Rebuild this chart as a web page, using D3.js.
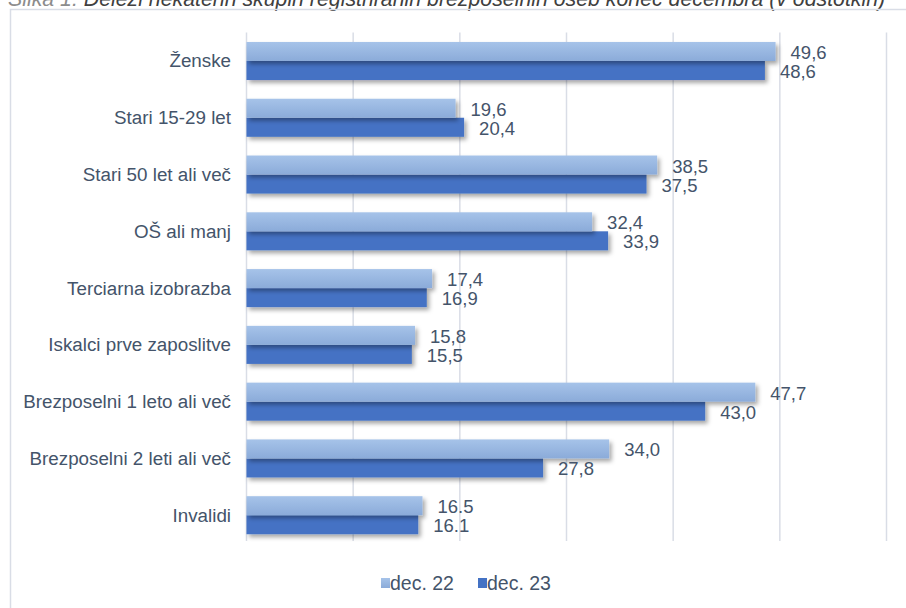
<!DOCTYPE html>
<html>
<head>
<meta charset="utf-8">
<script src="https://cdn.jsdelivr.net/npm/d3@7"></script>
<style>
  html, body { margin: 0; padding: 0; background: #fff; overflow: hidden; }
  svg { display: block; font-family: "Liberation Sans", Arial, sans-serif; }
</style>
</head>
<body>
<svg id="chart" width="906" height="608"></svg>
<script>
// podatki
const categories = [
    "Ženske",
    "Stari 15-29 let",
    "Stari 50 let ali več",
    "OŠ ali manj",
    "Terciarna izobrazba",
    "Iskalci prve zaposlitve",
    "Brezposelni 1 leto ali več",
    "Brezposelni 2 leti ali več",
    "Invalidi"
];
const series = ["dec. 22", "dec. 23"];
const dec22 = [49.6, 19.6, 38.5, 32.4, 17.4, 15.8, 47.7, 34.0, 16.5];
const dec23 = [48.6, 20.4, 37.5, 33.9, 16.9, 15.5, 43.0, 27.8, 16.1];
const xTicks = [0, 10, 20, 30, 40, 50, 60];
// v izvirniku ima ta kategorija decimalno piko
const dotLabels = ["Invalidi"];

const titleLead = "Slika 1: ";
const titleText = "Deleži nekaterih skupin registriranih brezposelnih oseb konec decembra (v odstotkih)";

const textColor = "#44546a";
const gridColor = "#d9dde6";

const svg = d3.select("#chart");

// sence in preliv
const defs = svg.append("defs");
const grad = defs.append("linearGradient")
    .attr("id", "lightGrad")
    .attr("x1", 0).attr("y1", 0).attr("x2", 0).attr("y2", 1);
grad.append("stop").attr("offset", "0%").attr("stop-color", "#a6c3e9");
grad.append("stop").attr("offset", "100%").attr("stop-color", "#8babd9");

const shadow = defs.append("filter")
    .attr("id", "shadow")
    .attr("x", "-10%").attr("y", "-30%")
    .attr("width", "130%").attr("height", "180%");
shadow.append("feDropShadow")
    .attr("dx", 2.5).attr("dy", 3)
    .attr("stdDeviation", 2.2)
    .attr("flood-color", "#000")
    .attr("flood-opacity", 0.35);

const fills = {"dec. 22": "url(#lightGrad)", "dec. 23": "#4472c4"};

// naslov (v izvirniku odrezan na vrhu)
const title = svg.append("text")
    .attr("x", 8)
    .attr("y", 6)
    .style("font-size", "21.3px")
    .style("font-style", "italic");
title.append("tspan").attr("fill", "#8c8c8c").text(titleLead);
title.append("tspan").attr("fill", "#404040").text(titleText);

// okvir
svg.append("rect")
    .attr("x", 10.5).attr("y", 9.5)
    .attr("width", 905).attr("height", 620)
    .attr("fill", "none")
    .attr("stroke", gridColor)
    .attr("stroke-width", 1.5);

// lestvice
const x = d3.scaleLinear()
    .domain([0, 60])
    .range([246.5, 886.5]);

const y = d3.scaleBand()
    .domain(categories)
    .range([32.6, 543.6])
    .paddingInner(0.33)
    .paddingOuter(0.165);

const ySub = d3.scaleBand()
    .domain(series)
    .range([0, y.bandwidth()]);

// mreža
svg.append("g")
    .selectAll("line")
    .data(xTicks)
    .join("line")
    .attr("x1", d => x(d))
    .attr("x2", d => x(d))
    .attr("y1", 32.6)
    .attr("y2", 541)
    .attr("stroke", gridColor)
    .attr("stroke-width", 1.5);

// oznake kategorij
svg.append("g")
    .selectAll("text")
    .data(categories)
    .join("text")
    .attr("x", 231)
    .attr("y", d => y(d) + y.bandwidth() / 2)
    .attr("text-anchor", "end")
    .attr("dominant-baseline", "central")
    .attr("fill", textColor)
    .style("font-size", "18.8px")
    .text(d => d);

// stolpci
const rows = categories.map((c, i) => ({
    cat: c,
    values: [
        {key: "dec. 22", value: dec22[i]},
        {key: "dec. 23", value: dec23[i]}
    ]
}));

const groups = svg.append("g")
    .selectAll("g")
    .data(rows)
    .join("g")
    .attr("transform", d => `translate(0,${y(d.cat)})`);

// najprej temni stolpec, nato svetli, da svetli pade senco na temnega
groups.selectAll("rect")
    .data(d => d.values.slice().reverse())
    .join("rect")
    .attr("x", x(0))
    .attr("y", d => ySub(d.key))
    .attr("width", d => x(d.value) - x(0))
    .attr("height", ySub.bandwidth())
    .attr("fill", d => fills[d.key])
    .attr("filter", "url(#shadow)");

const fmt = d3.format(".1f");
groups.selectAll("text")
    .data(d => d.values.map(v => ({...v, cat: d.cat})))
    .join("text")
    .attr("x", d => x(d.value) + 15)
    .attr("y", d => ySub(d.key) + ySub.bandwidth() / 2 + 1)
    .attr("dominant-baseline", "central")
    .attr("fill", textColor)
    .style("font-size", "18.5px")
    .text(d => dotLabels.includes(d.cat) ? fmt(d.value) : fmt(d.value).replace(".", ","));

// legenda
const legend = svg.append("g")
    .attr("transform", "translate(381,583)");

const legendItems = legend.selectAll("g")
    .data(series)
    .join("g")
    .attr("transform", (d, i) => `translate(${i * 97},0)`);

legendItems.append("rect")
    .attr("x", 0)
    .attr("y", -5)
    .attr("width", 9)
    .attr("height", 10)
    .attr("fill", d => fills[d]);

legendItems.append("text")
    .attr("x", 9)
    .attr("y", 0)
    .attr("dominant-baseline", "central")
    .attr("fill", textColor)
    .style("font-size", "19.5px")
    .text(d => d);
</script>
</body>
</html>
